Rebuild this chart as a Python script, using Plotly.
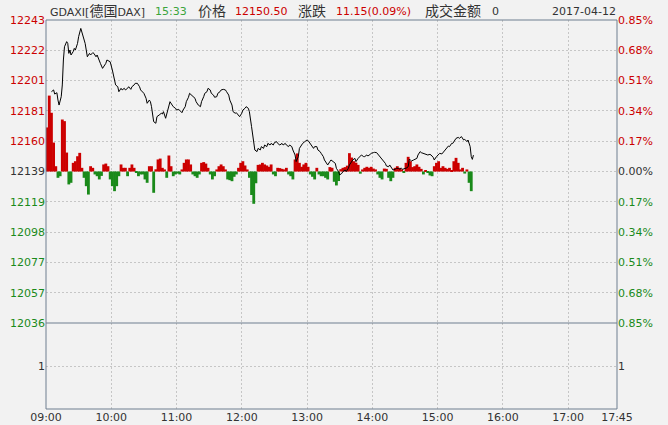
import plotly.graph_objects as go

# quote header
symbol = "GDAXI"
symbol_name = "德国"
symbol_suffix = "DAX"
quote_time = "15:33"
trade_date = "2017-04-12"
turnover = "0"
prev_close = 12139.35

# x axis: minutes after 09:00
hour_ticks = [0, 60, 120, 180, 240, 300, 360, 420, 480, 525]
hour_labels = ["09:00", "10:00", "11:00", "12:00", "13:00", "14:00",
               "15:00", "16:00", "17:00", "17:45"]

# y axis: percent steps from previous close and their price labels
pct_steps = [0.85, 0.68, 0.51, 0.34, 0.17, 0.0, -0.17, -0.34, -0.51, -0.68, -0.85]
price_labels = ["12243", "12222", "12201", "12181", "12160", "12139",
                "12119", "12098", "12077", "12057", "12036"]
pct_labels = ["0.85%", "0.68%", "0.51%", "0.34%", "0.17%", "0.00%",
              "0.17%", "0.34%", "0.51%", "0.68%", "0.85%"]

# intraday price line (minute, price)
line_minutes = [
    5, 7, 8, 10, 11, 12, 14, 15, 16, 17,
    19, 20, 21, 22, 23, 25, 26, 27, 29, 30,
    32, 33, 34, 35, 36, 38, 40, 41, 43, 44,
    46, 47, 49, 50, 52, 53, 55, 56, 58, 59,
    61, 63, 64, 66, 67, 69, 70, 72, 73, 75,
    76, 78, 79, 81, 82, 84, 86, 87, 89, 90,
    92, 93, 95, 96, 97, 98, 99, 101, 102, 104,
    106, 107, 108, 110, 112, 114, 116, 117, 119, 120,
    122, 123, 125, 126, 128, 129, 131, 132, 134, 135,
    137, 138, 140, 142, 143, 145, 146, 148, 149, 151,
    152, 154, 155, 157, 158, 160, 161, 163, 165, 166,
    168, 169, 171, 172, 174, 175, 177, 178, 180, 181,
    183, 184, 186, 187, 189, 191, 192, 194, 195, 197,
    198, 200, 201, 203, 204, 206, 207, 209, 210, 212,
    213, 215, 217, 218, 220, 221, 223, 224, 226, 227,
    229, 230, 232, 233, 235, 236, 238, 240, 241, 243,
    244, 246, 247, 249, 250, 252, 253, 255, 256, 258,
    259, 261, 262, 264, 266, 267, 269, 270, 272, 273,
    275, 276, 278, 279, 281, 282, 284, 285, 287, 289,
    290, 292, 293, 295, 296, 298, 299, 301, 302, 304,
    305, 307, 308, 310, 312, 313, 315, 316, 318, 319,
    321, 322, 324, 325, 327, 328, 330, 331, 333, 334,
    335, 336, 338, 339, 341, 342, 344, 345, 347, 348,
    350, 351, 353, 354, 356, 357, 359, 361, 362, 364,
    365, 367, 368, 370, 371, 373, 374, 376, 377, 379,
    380, 382, 384, 385, 387, 388, 390, 391, 392, 393,
]
line_prices = [
    12193.7, 12194.9, 12192.1, 12193.0, 12188.0, 12184.6, 12190.3, 12198.3, 12215.3, 12224.3,
    12227.8, 12226.6, 12219.8, 12222.1, 12218.7, 12221.0, 12223.2, 12222.1, 12226.6, 12231.2,
    12236.8, 12234.6, 12232.3, 12228.9, 12226.6, 12217.5, 12219.8, 12218.7, 12220.3, 12219.8,
    12217.5, 12218.7, 12214.1, 12213.0, 12209.6, 12210.7, 12213.0, 12215.3, 12214.1, 12214.1,
    12208.5, 12201.7, 12198.3, 12197.1, 12193.7, 12196.0, 12194.9, 12196.0, 12194.9, 12196.0,
    12197.1, 12195.3, 12197.1, 12198.3, 12199.4, 12199.4, 12197.1, 12194.9, 12193.7, 12192.6,
    12189.2, 12185.8, 12188.0, 12186.9, 12183.5, 12177.8, 12173.3, 12172.2, 12176.7, 12177.8,
    12179.0, 12178.5, 12180.1, 12175.6, 12181.2, 12186.9, 12184.6, 12183.5, 12182.4, 12181.2,
    12181.7, 12180.8, 12179.4, 12181.2, 12183.5, 12186.9, 12189.9, 12192.6, 12191.4, 12190.3,
    12189.2, 12186.9, 12184.6, 12183.5, 12186.9, 12190.3, 12192.6, 12193.7, 12196.0, 12194.9,
    12192.6, 12191.4, 12189.9, 12190.3, 12192.6, 12193.7, 12194.9, 12195.3, 12194.9, 12193.7,
    12191.4, 12188.0, 12184.6, 12180.1, 12179.0, 12179.4, 12177.2, 12176.7, 12179.0, 12181.2,
    12182.4, 12183.5, 12182.4, 12180.1, 12169.9, 12160.8, 12154.0, 12152.9, 12155.1, 12154.0,
    12156.3, 12155.1, 12157.4, 12156.3, 12158.5, 12157.4, 12158.5, 12157.4, 12159.0, 12159.7,
    12158.5, 12157.4, 12158.5, 12157.4, 12158.5, 12157.4, 12156.3, 12157.4, 12156.3, 12154.0,
    12150.6, 12146.1, 12149.5, 12155.1, 12157.4, 12158.5, 12159.7, 12160.8, 12160.4, 12158.5,
    12157.4, 12155.1, 12156.3, 12156.3, 12154.0, 12152.9, 12151.7, 12149.5, 12147.2, 12144.9,
    12143.8, 12146.1, 12147.2, 12146.1, 12144.9, 12141.5, 12139.3, 12137.0, 12138.1, 12139.3,
    12140.4, 12139.3, 12141.5, 12143.8, 12146.1, 12147.2, 12148.3, 12146.1, 12148.3, 12149.5,
    12150.6, 12149.5, 12149.5, 12150.6, 12149.9, 12151.0, 12151.7, 12152.2, 12152.4, 12152.2,
    12151.3, 12149.9, 12148.3, 12146.5, 12144.9, 12143.1, 12142.6, 12143.8, 12142.0, 12140.4,
    12140.8, 12141.5, 12141.5, 12141.0, 12141.5, 12140.8, 12141.5, 12141.5, 12142.6, 12147.6,
    12147.2, 12146.5, 12147.2, 12147.6, 12148.3, 12150.6, 12152.9, 12152.2, 12151.7, 12151.3,
    12151.0, 12150.6, 12151.0, 12150.6, 12149.0, 12147.2, 12149.5, 12151.3, 12151.7, 12151.3,
    12152.2, 12154.0, 12155.1, 12156.7, 12156.3, 12158.5, 12158.5, 12160.4, 12161.9, 12162.6,
    12161.9, 12163.1, 12160.8, 12161.3, 12159.7, 12160.8, 12156.3, 12149.5, 12147.6, 12150.5,
]

# red / green bars around the previous close, one per 2 minutes
bar_values = [
    30.0, 51.7, 40.0, 19.7, 3.6, -4.3, -3.2, 35.4, 34.3, 12.9,
    -8.8, -7.7, 5.9, 7.0, 10.4, 12.7, 2.5, -4.3, -10.0, -15.7,
    3.6, 2.5, -2.0, -3.2, -5.4, -3.0, 4.8, 5.4, 3.6, -5.4,
    -10.0, -13.4, -10.0, -3.2, 4.8, 2.5, 2.5, -3.2, 2.5, 4.8,
    2.5, -1.0, -3.2, -2.0, -2.0, -5.4, -7.7, 3.6, 3.6, -14.5,
    1.5, 8.2, 8.8, 2.5, 1.4, -4.3, 10.9, 3.6, -3.2, -2.0,
    -1.4, -2.0, 1.4, 5.9, 8.2, 8.2, 4.8, -2.0, -3.2, -4.3,
    -2.0, 5.9, 6.4, 5.4, 2.5, -2.0, -5.4, -3.2, 1.4, 3.6,
    4.8, 3.6, 1.4, -5.4, -5.9, -6.6, -3.6, -2.0, 2.5, 5.9,
    7.0, 4.1, 1.4, -4.3, -16.0, -22.0, -8.0, 4.5, 4.8, 5.9,
    4.8, 4.1, 3.2, 4.8, -2.0, -3.2, 2.5, 2.3, 1.8, 1.4,
    2.5, -2.0, -3.2, -5.4, 8.2, 12.3, 5.9, 3.2, 4.8, 5.9,
    3.2, -2.0, -3.6, -5.4, 2.5, -2.0, -3.2, -3.2, -4.3, -5.4,
    3.0, 2.5, -7.0, -9.5, -6.5, 1.6, 2.5, 3.0, 4.0, 12.5,
    9.5, 7.0, 6.0, 4.5, -1.5, 1.4, 2.5, 3.2, 2.5, 3.2,
    2.0, 1.4, -2.0, -4.3, -5.4, 2.0, 1.8, -4.3, -6.6, -4.3,
    2.5, 3.6, 2.5, 1.5, -1.0, 5.9, 10.0, 7.0, 3.0, 3.6,
    4.8, 3.2, 1.8, -2.0, 0.9, -0.9, -2.7, -3.2, 3.6, 5.9,
    7.0, 2.5, 3.6, 2.5, 1.8, 2.5, 0.9, 7.0, 9.3, 5.9,
    1.4, 2.5, -1.4, 1.4, -7.7, -13.4,
]

RED = "#cc0000"
GREEN = "#1a8a1a"
DARK = "#333333"
GRID = "#c6c6c6"
FRAME = "#6f7f90"
BG = "#f2f2f2"
FONT = "DejaVu Sans, Noto Sans CJK SC"

def tick_color(p):
    if p > 0:
        return RED
    if p < 0:
        return GREEN
    return DARK

tick_vals = [prev_close * (1 + p / 100) for p in pct_steps]
left_text = [f"<span style='color:{tick_color(p)}'>{t}</span>" for p, t in zip(pct_steps, price_labels)]
right_text = [f"<span style='color:{tick_color(p)}'>{t}</span>" for p, t in zip(pct_steps, pct_labels)]
y_lo, y_hi = min(tick_vals), max(tick_vals)

bar_minutes = [2 * i + 1 for i in range(len(bar_values))]
bar_colors = [RED if v >= 0 else GREEN for v in bar_values]

fig = go.Figure()
fig.add_trace(go.Bar(x=bar_minutes, y=bar_values, base=prev_close, width=2.6,
                     marker=dict(color=bar_colors, line=dict(width=0)),
                     xaxis="x", yaxis="y", hoverinfo="skip"))
fig.add_trace(go.Scatter(x=line_minutes, y=line_prices, mode="lines",
                         line=dict(color="#000000", width=1),
                         xaxis="x", yaxis="y"))
fig.add_trace(go.Scatter(x=[], y=[], xaxis="x", yaxis="y3"))
fig.add_trace(go.Scatter(x=[], y=[], xaxis="x", yaxis="y2"))
fig.add_trace(go.Scatter(x=[], y=[], xaxis="x", yaxis="y4"))

split = 86 / 389
grid_style = dict(showgrid=True, gridcolor=GRID, griddash="2px,2px", gridwidth=1,
                  zeroline=False, showline=False, ticks="", automargin=False,
                  tickfont=dict(family=FONT, size=11, color=DARK))

fig.update_layout(
    width=668, height=425,
    margin=dict(l=46, r=51, t=20, b=16),
    paper_bgcolor=BG, plot_bgcolor=BG,
    showlegend=False,
    xaxis=dict(range=[0, 525], tickvals=hour_ticks, ticktext=hour_labels,
               anchor="y2", **grid_style),
    yaxis=dict(domain=[split, 1], range=[y_lo, y_hi], tickvals=tick_vals,
               ticktext=left_text, anchor="x", **grid_style),
    yaxis3=dict(overlaying="y", side="right", range=[y_lo, y_hi], tickvals=tick_vals,
                ticktext=right_text, anchor="x",
                **{**grid_style, "showgrid": False}),
    yaxis2=dict(domain=[0, split], range=[0, 2], tickvals=[1], ticktext=["1"],
                anchor="x", **grid_style),
    yaxis4=dict(overlaying="y2", side="right", range=[0, 2], tickvals=[1], ticktext=["1"],
                anchor="x", **{**grid_style, "showgrid": False}),
    shapes=[
        dict(type="rect", xref="paper", yref="paper", x0=0, x1=1, y0=0, y1=1,
             line=dict(color=FRAME, width=1)),
        dict(type="line", xref="paper", yref="paper", x0=0, x1=1, y0=split, y1=split,
             line=dict(color=FRAME, width=1)),
    ],
)

# header row above the plot
last_price = line_prices[-1]
change = last_price - prev_close
change_pct = change / prev_close * 100
cjk = "font-size:14px"
header = [
    (48, f"{symbol}[<span style='{cjk}'>{symbol_name}</span>{symbol_suffix}]", DARK),
    (153, quote_time, "#3aa43a"),
    (196, f"<span style='{cjk}'>价格</span>", DARK),
    (233, f"{last_price:.2f}", RED),
    (296, f"<span style='{cjk}'>涨跌</span>", DARK),
    (334, f"{change:.2f}({change_pct:.2f}%)", RED),
    (423, f"<span style='{cjk}'>成交金额</span>", DARK),
    (490, turnover, DARK),
    (550, trade_date, DARK),
]
for px, text, color in header:
    fig.add_annotation(x=(px - 46) / 571, y=(389 + 9) / 389, xref="paper", yref="paper",
                       text=text, showarrow=False, xanchor="left", yanchor="middle",
                       font=dict(family=FONT, size=11, color=color))

# drop the default page margin so the chart sits at the window's corner
fig.write_html("out.html", config={"displayModeBar": False},
               post_script="document.body.style.margin = '0';")
